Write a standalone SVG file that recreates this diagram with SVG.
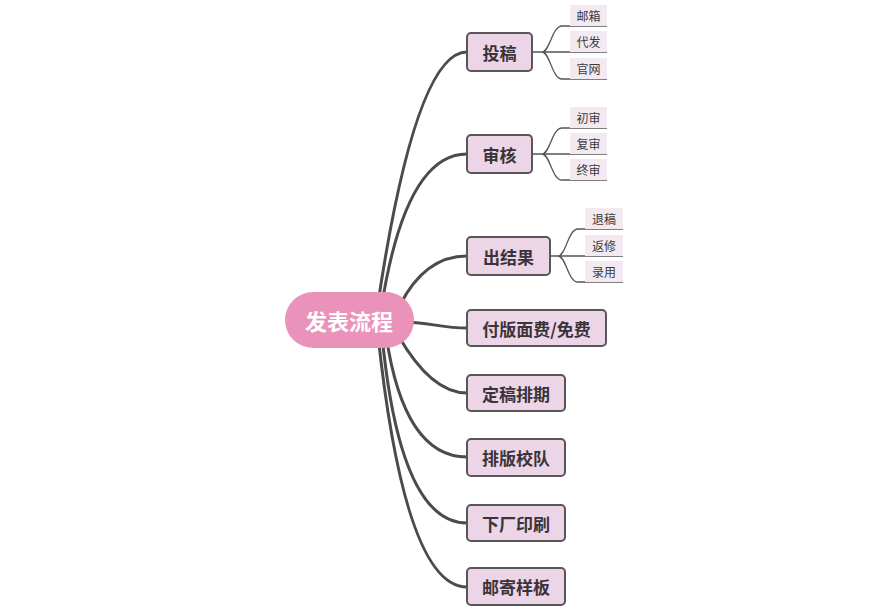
<svg xmlns="http://www.w3.org/2000/svg" width="892" height="611" viewBox="0 0 892 611">
<style>
.conn{fill:none;stroke:#4d4a4c;stroke-width:3;stroke-linecap:round}
.sub{fill:none;stroke:#555;stroke-width:1.3}
.box{fill:#ebd5e7;stroke:#59565a;stroke-width:2}
.lbl{font-family:"Noto Sans CJK SC","Noto Sans",sans-serif;font-weight:bold;font-size:17px;fill:#3a3438;text-anchor:middle;dominant-baseline:central}
.sbox{fill:#f3e9f1}
.slbl{font-family:"Noto Sans CJK SC","Noto Sans",sans-serif;font-size:12px;fill:#3a3a3a;text-anchor:middle;dominant-baseline:central}
</style>
<rect width="892" height="611" fill="#ffffff"/>
<g id="connectors">
<path class="conn" d="M377,310 Q415,52 467,52"/>
<path class="conn" d="M381,310 Q405,154 467,154"/>
<path class="conn" d="M400,305 Q425,256 467,256"/>
<path class="conn" d="M400,322 C430,322 440,328 467,328"/>
<path class="conn" d="M398,335 Q431,393 467,393"/>
<path class="conn" d="M386,335 Q404,457 467,457"/>
<path class="conn" d="M382,335 Q400,523 467,523"/>
<path class="conn" d="M378,335 Q405,587 467,587"/>
<path class="sub" d="M532,52 L607,52 M542,52 C550,52 552,26 562,26 L607,26 M542,52 C550,52 552,79 562,79 L607,79"/>
<path class="sub" d="M532,154 L607,154 M542,154 C550,154 552,128 562,128 L607,128 M542,154 C550,154 552,180 562,180 L607,180"/>
<path class="sub" d="M550,256 L623,256 M558,256 C566,256 568,229 578,229 L623,229 M558,256 C566,256 568,282 578,282 L623,282"/>
</g>
<g id="root">
<rect x="285" y="292" width="129" height="56" rx="28" fill="#eb92ba"/>
<text x="349" y="320" style="font-family:'Noto Sans CJK SC','Noto Sans',sans-serif;font-weight:bold;font-size:22px;fill:#ffffff;text-anchor:middle;dominant-baseline:central">发表流程</text>
</g>
<g id="n-tougao">
<rect class="box" x="467" y="33" width="65" height="38" rx="4"/>
<text class="lbl" x="499.5" y="52">投稿</text>
<rect class="sbox" x="570" y="5" width="37" height="21"/><text class="slbl" x="588.5" y="15.5">邮箱</text>
<rect class="sbox" x="570" y="31" width="37" height="21"/><text class="slbl" x="588.5" y="41.5">代发</text>
<rect class="sbox" x="570" y="58" width="37" height="21"/><text class="slbl" x="588.5" y="68.5">官网</text>
</g>
<g id="n-shenhe">
<rect class="box" x="467" y="135" width="65" height="38" rx="4"/>
<text class="lbl" x="499.5" y="154">审核</text>
<rect class="sbox" x="570" y="107" width="37" height="21"/><text class="slbl" x="588.5" y="117.5">初审</text>
<rect class="sbox" x="570" y="133" width="37" height="21"/><text class="slbl" x="588.5" y="143.5">复审</text>
<rect class="sbox" x="570" y="159" width="37" height="21"/><text class="slbl" x="588.5" y="169.5">终审</text>
</g>
<g id="n-result">
<rect class="box" x="467" y="237" width="83" height="38" rx="4"/>
<text class="lbl" x="508.5" y="256">出结果</text>
<rect class="sbox" x="585" y="208" width="38" height="21"/><text class="slbl" x="604" y="218.5">退稿</text>
<rect class="sbox" x="585" y="235" width="38" height="21"/><text class="slbl" x="604" y="245.5">返修</text>
<rect class="sbox" x="585" y="261" width="38" height="21"/><text class="slbl" x="604" y="271.5">录用</text>
</g>
<g id="n-fee">
<rect class="box" x="467" y="310" width="139" height="36" rx="4"/>
<text class="lbl" x="536.5" y="328">付版面费/免费</text>
</g>
<g id="n-dinggao">
<rect class="box" x="467" y="375" width="98" height="36" rx="4"/>
<text class="lbl" x="516" y="393">定稿排期</text>
</g>
<g id="n-paiban">
<rect class="box" x="467" y="439" width="98" height="37" rx="4"/>
<text class="lbl" x="516" y="457.5">排版校队</text>
</g>
<g id="n-print">
<rect class="box" x="467" y="505" width="98" height="36" rx="4"/>
<text class="lbl" x="516" y="523">下厂印刷</text>
</g>
<g id="n-mail">
<rect class="box" x="467" y="568" width="98" height="37" rx="4"/>
<text class="lbl" x="516" y="586.5">邮寄样板</text>
</g>
</svg>
